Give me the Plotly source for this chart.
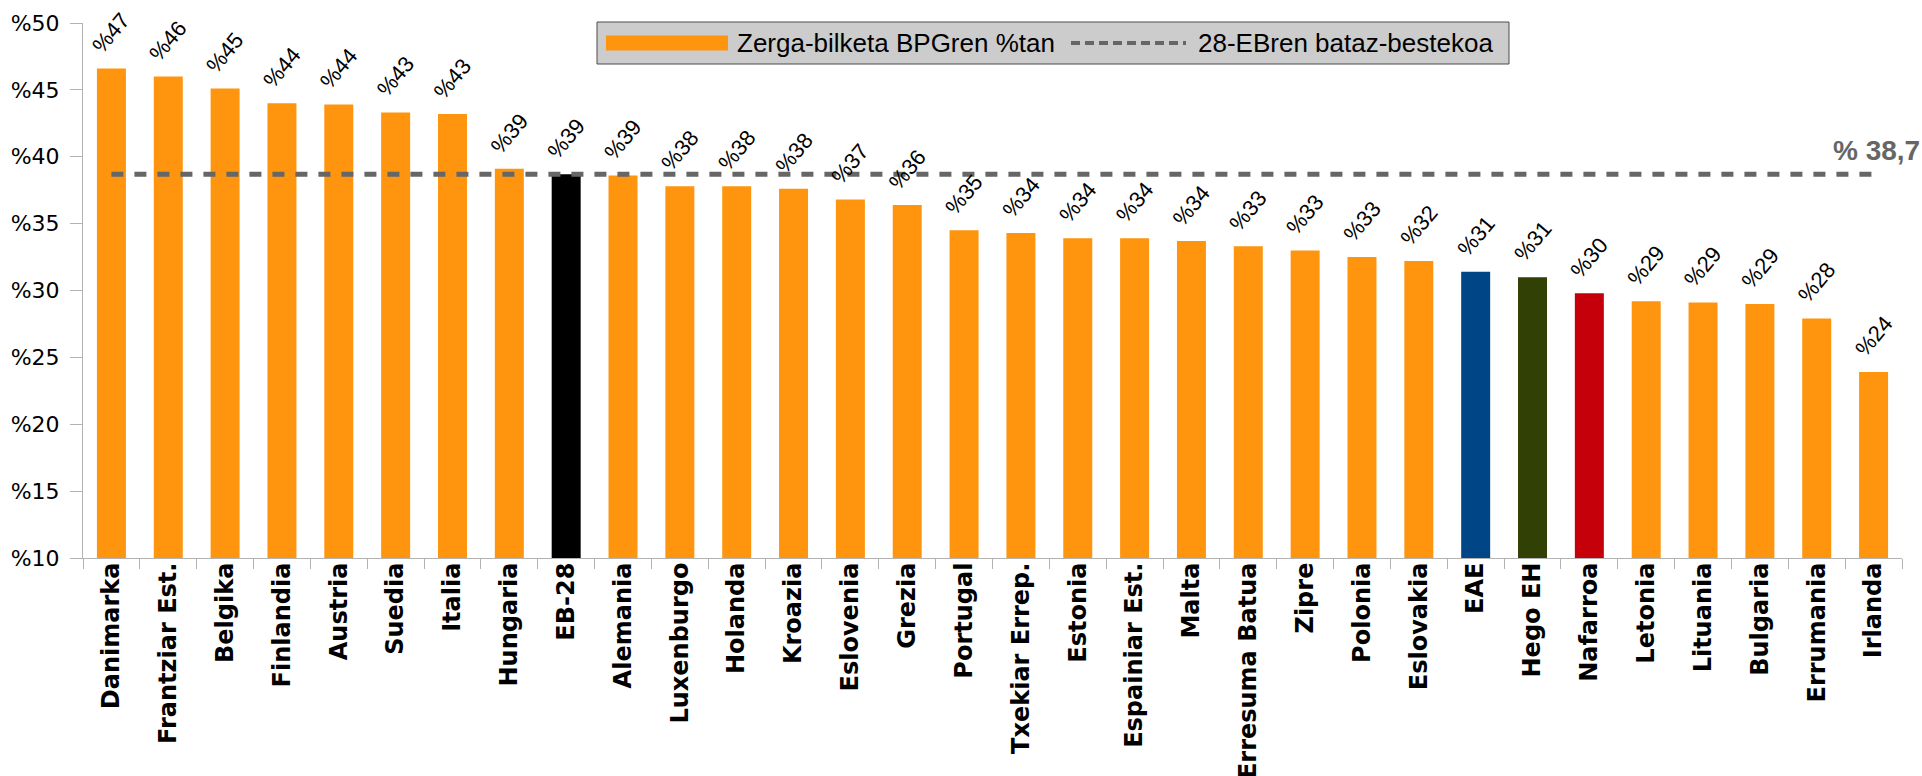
import math
import plotly.graph_objects as go

# ---- data ----
categories = ["Danimarka", "Frantziar Est.", "Belgika", "Finlandia", "Austria", "Suedia",
              "Italia", "Hungaria", "EB-28", "Alemania", "Luxenburgo", "Holanda", "Kroazia",
              "Eslovenia", "Grezia", "Portugal", "Txekiar Errep.", "Estonia", "Espainiar Est.",
              "Malta", "Erresuma Batua", "Zipre", "Polonia", "Eslovakia", "EAE", "Hego EH",
              "Nafarroa", "Letonia", "Lituania", "Bulgaria", "Errumania", "Irlanda"]
tax_pct = [46.6, 46.0, 45.1, 44.0, 43.9, 43.3, 43.2, 39.1, 38.7, 38.6, 37.8, 37.8, 37.6,
           36.8, 36.4, 34.5, 34.3, 33.9, 33.9, 33.7, 33.3, 33.0, 32.5, 32.2, 31.4, 31.0,
           29.8, 29.2, 29.1, 29.0, 27.9, 23.9]
eu28_avg = 38.7
y_ticks = [10, 15, 20, 25, 30, 35, 40, 45, 50]
series_name = "Zerga-bilketa BPGren %tan"
avg_name = "28-EBren bataz-bestekoa"
avg_label = "% 38,7"

# ---- styles ----
ORANGE = "#FF950E"
highlight = {"EB-28": "#000000", "EAE": "#004586", "Hego EH": "#314004", "Nafarroa": "#C5000B"}
bar_colors = [highlight.get(c, ORANGE) for c in categories]
AX = "#b3b3b3"
W, H = 1922, 776
ml, mr, mt, mb = 83, 20, 23, 218
pw, ph = W - ml - mr, H - mt - mb

def px_x(x):
    return (x - ml) / pw

def px_y(y):
    return (H - mb - y) / ph

fig = go.Figure()
fig.add_trace(go.Bar(
    x=categories, y=tax_pct, marker=dict(color=bar_colors, line=dict(width=0)),
    name=series_name, showlegend=False, hoverinfo="x+y"))
fig.add_trace(go.Scatter(
    x=categories, y=[eu28_avg] * len(categories), mode="lines",
    line=dict(color="#666666", width=5, dash="12px,11px"),
    name=avg_name, showlegend=False))

annotations = []
for c, v in zip(categories, tax_pct):
    annotations.append(dict(
        x=c, y=v, xref="x", yref="y", text="%" + str(math.floor(v + 0.5)),
        showarrow=False, textangle=-50, xanchor="center", yanchor="bottom", yshift=8,
        font=dict(family="Liberation Sans", size=22, color="#000000")))

annotations.append(dict(
    x=categories[-1], y=eu28_avg, xref="x", yref="y", text=avg_label, showarrow=False,
    xanchor="center", yanchor="bottom", yshift=6, xshift=3,
    font=dict(family="Liberation Sans", size=28, color="#666666", weight="bold")))

# legend (drawn as decoration)
shapes = [
    dict(type="rect", xref="paper", yref="paper", x0=px_x(597), x1=px_x(1509),
         y0=px_y(64), y1=px_y(22), fillcolor="#cccccc", line=dict(color="#4d4d4d", width=1),
         layer="above"),
    dict(type="rect", xref="paper", yref="paper", x0=px_x(606), x1=px_x(728),
         y0=px_y(50.5), y1=px_y(35.5), fillcolor=ORANGE, line=dict(width=0), layer="above"),
    dict(type="line", xref="paper", yref="paper", x0=px_x(1071), x1=px_x(1186),
         y0=px_y(43), y1=px_y(43), line=dict(color="#666666", width=4, dash="9px,5px"),
         layer="above"),
]
annotations.append(dict(x=px_x(735), y=px_y(43), xref="paper", yref="paper", text=series_name,
                        showarrow=False, xanchor="left", yanchor="middle",
                        font=dict(family="Liberation Sans", size=26, color="#000000")))
annotations.append(dict(x=px_x(1196), y=px_y(43), xref="paper", yref="paper", text=avg_name,
                        showarrow=False, xanchor="left", yanchor="middle",
                        font=dict(family="Liberation Sans", size=26, color="#000000")))

fig.update_layout(
    width=W, height=H, margin=dict(l=ml, r=mr, t=mt, b=mb, autoexpand=False),
    paper_bgcolor="#ffffff", plot_bgcolor="#ffffff",
    bargap=0.49, showlegend=False,
    annotations=annotations, shapes=shapes,
    xaxis=dict(type="category", range=[-0.5, len(categories) - 0.5],
               showline=True, linecolor=AX, linewidth=1,
               ticks="outside", ticklen=10, tickcolor=AX, tickson="boundaries",
               tickangle=-90, showgrid=False, automargin=False, ticklabelstandoff=-6,
               tickfont=dict(family="DejaVu Sans", size=24, color="#000000", weight="bold")),
    yaxis=dict(range=[10, 50], tickvals=y_ticks, ticktext=["%" + str(t) for t in y_ticks],
               showline=True, linecolor=AX, linewidth=1, ticks="outside", ticklen=12,
               tickcolor=AX, showgrid=False, zeroline=False, automargin=False,
               ticklabelstandoff=6,
               tickfont=dict(family="DejaVu Sans", size=22, color="#000000")),
)

fig.write_html("out.html", config={"displayModeBar": False},
               post_script="document.body.style.margin='0';document.body.style.overflow='hidden';")
